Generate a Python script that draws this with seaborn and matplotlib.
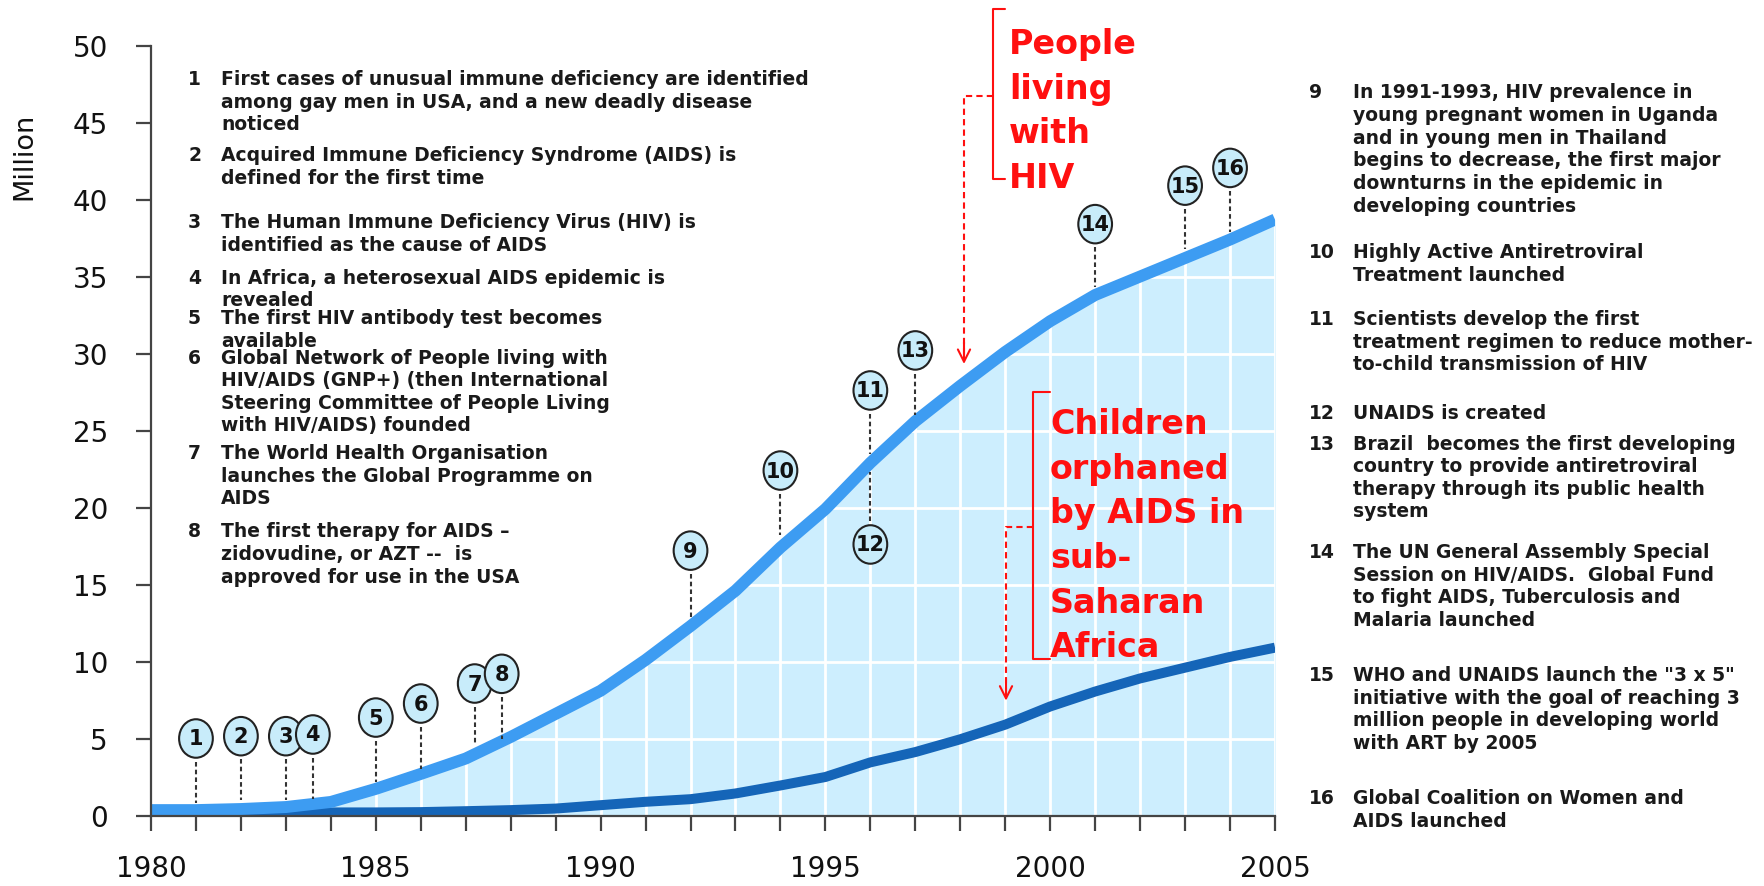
import matplotlib
matplotlib.use("Agg")
import matplotlib.pyplot as plt
from matplotlib.patches import Ellipse
from matplotlib.lines import Line2D
from matplotlib.transforms import IdentityTransform
import seaborn as sns
import pandas as pd

# ---------------- data ----------------
years = list(range(1980, 2006))
people_living_hiv = [0.35, 0.35, 0.42, 0.55, 0.88, 1.73, 2.7, 3.7, 5.1, 6.6,
                     8.1, 10.1, 12.3, 14.6, 17.4, 19.9, 22.9, 25.6, 27.9, 30.1,
                     32.1, 33.8, 35.0, 36.2, 37.4, 38.7]
children_orphaned = [0.2, 0.2, 0.2, 0.2, 0.2, 0.2, 0.22, 0.28, 0.35, 0.45,
                     0.67, 0.89, 1.06, 1.43, 1.95, 2.5, 3.45, 4.12, 4.95, 5.9,
                     7.08, 8.05, 8.9, 9.6, 10.3, 10.9]

event_ids = [str(i) for i in range(1, 17)]
event_years = [1981, 1982, 1983, 1983.6, 1985, 1986, 1987.2, 1987.8,
               1992, 1994, 1996, 1996, 1997, 2001, 2003, 2004]
event_marker_y = [5.0, 5.15, 5.15, 5.26, 6.36, 7.27, 8.57, 9.2,
                  17.2, 22.4, 27.6, 17.6, 30.2, 38.4, 40.9, 42.05]
event_line_end = [0.8, 1.0, 1.0, 1.1, 2.2, 3.05, 4.7, 5.0,
                  12.9, 18.2, 23.5, 22.3, 26.0, 34.3, 36.8, 37.9]

left_numbers = ["1", "2", "3", "4", "5", "6", "7", "8"]
left_texts = [
    "First cases of unusual immune deficiency are identified\namong gay men in USA, and a new deadly disease\nnoticed",
    "Acquired Immune Deficiency Syndrome (AIDS) is\ndefined for the first time",
    "The Human Immune Deficiency Virus (HIV) is\nidentified as the cause of AIDS",
    "In Africa, a heterosexual AIDS epidemic is\nrevealed",
    "The first HIV antibody test becomes\navailable",
    "Global Network of People living with\nHIV/AIDS (GNP+) (then International\nSteering Committee of People Living\nwith HIV/AIDS) founded",
    "The World Health Organisation\nlaunches the Global Programme on\nAIDS",
    "The first therapy for AIDS \u2013\nzidovudine, or AZT --  is\napproved for use in the USA",
]
right_numbers = ["9", "10", "11", "12", "13", "14", "15", "16"]
right_texts = [
    "In 1991-1993, HIV prevalence in\nyoung pregnant women in Uganda\nand in young men in Thailand\nbegins to decrease, the first major\ndownturns in the epidemic in\ndeveloping countries",
    "Highly Active Antiretroviral\nTreatment launched",
    "Scientists develop the first\ntreatment regimen to reduce mother-\nto-child transmission of HIV",
    "UNAIDS is created",
    "Brazil  becomes the first developing\ncountry to provide antiretroviral\ntherapy through its public health\nsystem",
    "The UN General Assembly Special\nSession on HIV/AIDS.  Global Fund\nto fight AIDS, Tuberculosis and\nMalaria launched",
    "WHO and UNAIDS launch the \"3 x 5\"\ninitiative with the goal of reaching 3\nmillion people in developing world\nwith ART by 2005",
    "Global Coalition on Women and\nAIDS launched",
]
label_people = "People\nliving\nwith\nHIV"
label_children = "Children\norphaned\nby AIDS in\nsub-\nSaharan\nAfrica"
y_label = "Million"

# ---------------- layout ----------------
W, H = 1764, 887
left_tops = [70, 146.5, 213.5, 268.5, 309, 348.5, 444, 522.5]
right_tops = [83.5, 243.5, 310, 404.5, 434.5, 543, 666, 789.5]

sns.set_style("ticks")
plt.rcParams["font.family"] = ["DejaVu Sans"]

fig = plt.figure(figsize=(W / 100, H / 100), dpi=100)
ax = fig.add_axes([151 / W, 1 - 816.5 / H, 1124 / W, 770 / H])

df = pd.DataFrame({"year": years, "hiv": people_living_hiv, "orph": children_orphaned})

fill_col = "#cdeefe"
ax.fill_between(df["year"], 0, df["hiv"], color=fill_col, lw=0, zorder=0.3)
sns.lineplot(data=df, x="year", y="orph", ax=ax, color="#1565b8", lw=7.2,
             zorder=2, solid_capstyle="butt")
sns.lineplot(data=df, x="year", y="hiv", ax=ax, color="#3d9cf2", lw=8.6,
             zorder=2.2, solid_capstyle="butt")

ax.set_xlim(1980, 2005)
ax.set_ylim(0, 50)
ax.set_xticks(range(1980, 2006, 5))
ax.set_xticks(years, minor=True)
ax.set_yticks(range(0, 51, 5))
ax.set_axisbelow(True)
ax.grid(True, which="both", axis="x", color="white", lw=2)
ax.grid(True, which="major", axis="y", color="white", lw=2)
ax.set_xlabel("")
ax.set_ylabel("")
for s in ["top", "right"]:
    ax.spines[s].set_visible(False)
for s in ["left", "bottom"]:
    ax.spines[s].set_color("#444444")
    ax.spines[s].set_linewidth(1.6)
ax.tick_params(axis="both", which="both", direction="out", length=11,
               width=1.6, color="#444444", labelsize=20, labelcolor="#111111")
ax.tick_params(axis="x", which="both", pad=17)
ax.tick_params(axis="y", which="both", pad=20)

fig.text(24.75 / W, 1 - 156 / H, y_label, rotation=90, ha="center", va="center",
         fontsize=19.5, color="#111111")

# event markers
ell_w, ell_h = 0.75, 2.5
num_family = ["Liberation Sans Narrow", "DejaVu Sans"]
for eid, ex, ey, eend in zip(event_ids, event_years, event_marker_y, event_line_end):
    if eend < ey:
        start = ey - ell_h / 2 - 0.25
    else:
        start = ey + ell_h / 2 + 0.25
    ax.plot([ex, ex], [start, eend], color="#333333", lw=1.5,
            ls=(0, (2.2, 1.5)), zorder=3)
    ax.add_patch(Ellipse((ex, ey), ell_w, ell_h, facecolor="#c8ecfa",
                         edgecolor="#222222", lw=1.5, zorder=5))
    ax.text(ex, ey, eid, ha="center", va="center", fontsize=15,
            fontweight="bold", family=num_family, color="#111111", zorder=6)

# text lists
list_kw = dict(fontsize=13.5, fontweight="bold", color="#1a1a1a", va="top",
               ha="left", linespacing=1.24)
for n, t, y in zip(left_numbers, left_texts, left_tops):
    fig.text(188 / W, 1 - y / H, n, **list_kw)
    fig.text(221 / W, 1 - y / H, t, **list_kw)
for n, t, y in zip(right_numbers, right_texts, right_tops):
    fig.text(1309 / W, 1 - y / H, n, **list_kw)
    fig.text(1353 / W, 1 - y / H, t, **list_kw)

# red annotations (figure pixel layout)
red = "#ff1010"
red_kw = dict(fontsize=24, fontweight="bold", color=red, va="top", ha="left",
              linespacing=1.45, zorder=7)
fig.text(1009 / W, 1 - 28 / H, label_people, **red_kw)
fig.text(1050 / W, 1 - 408 / H, label_children, **red_kw)


def px_line(xs, ys, **kw):
    fig.add_artist(Line2D(xs, [H - y for y in ys], transform=IdentityTransform(), **kw))


def bracket(x, top, bottom, tick_end, branch_y, branch_x, tip_y):
    px_line([tick_end, x, x, tick_end], [top, top, bottom, bottom], color=red, lw=1.5)
    px_line([x, branch_x, branch_x], [branch_y, branch_y, tip_y - 4], color=red,
            lw=1.5, ls=(0, (3, 2)))
    ax.annotate("", xy=(branch_x, H - tip_y), xycoords="figure pixels",
                xytext=(branch_x, H - tip_y + 22), textcoords="figure pixels",
                arrowprops=dict(arrowstyle="->", color=red, lw=1.5,
                                mutation_scale=22, shrinkA=0, shrinkB=0))


bracket(992.5, 10, 180, 1005, 96.7, 964, 365)
bracket(1032.7, 393.3, 660, 1050, 528.3, 1006, 701.7)

fig.savefig("out.png", dpi=100)
